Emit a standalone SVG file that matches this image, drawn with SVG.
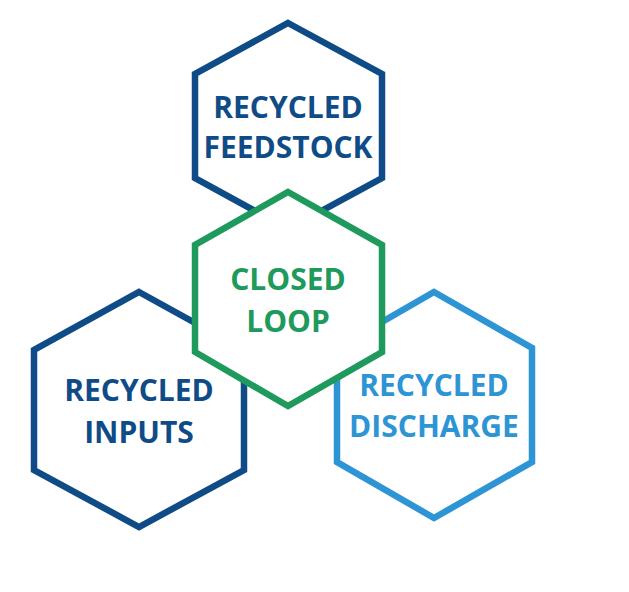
<svg xmlns="http://www.w3.org/2000/svg" width="629" height="592" viewBox="0 0 629 592">
<style>
.hex{fill:#fff;stroke-width:6.5;stroke-linejoin:miter}
.t{font-family:"Open Sans","Liberation Sans",sans-serif;font-weight:700;font-size:30px;text-anchor:middle}
.dark{stroke:#0f4c87}
.darkt{fill:#0f4c87}
.green{stroke:#1e9a5c}
.greent{fill:#1e9a5c}
.light{stroke:#2e95d4}
.lightt{fill:#2e95d4}
</style>
<rect width="629" height="592" fill="#fff"/>
<g id="feedstock">
<polygon class="hex dark" points="288,23 382,74 382,178 288,229 195,178 195,74"/>
<text class="t darkt" x="288" y="118">RECYCLED</text>
<text class="t darkt" x="288" y="158">FEEDSTOCK</text>
</g>
<g id="inputs">
<polygon class="hex dark" points="139,292 244,350 244,470 139,527 34,470 34,350"/>
<text class="t darkt" x="139" y="401">RECYCLED</text>
<text class="t darkt" x="139" y="443">INPUTS</text>
</g>
<g id="discharge">
<polygon class="hex light" points="434,292 532,348 532,462 434,518 337,462 337,348"/>
<text class="t lightt" x="434" y="396">RECYCLED</text>
<text class="t lightt" x="434" y="437">DISCHARGE</text>
</g>
<g id="closedloop">
<polygon class="hex green" points="288,192 382,245 382,352 288,406 195,352 195,245"/>
<text class="t greent" x="288" y="290">CLOSED</text>
<text class="t greent" x="288" y="332">LOOP</text>
</g>
<g id="connectors"/>
</svg>
